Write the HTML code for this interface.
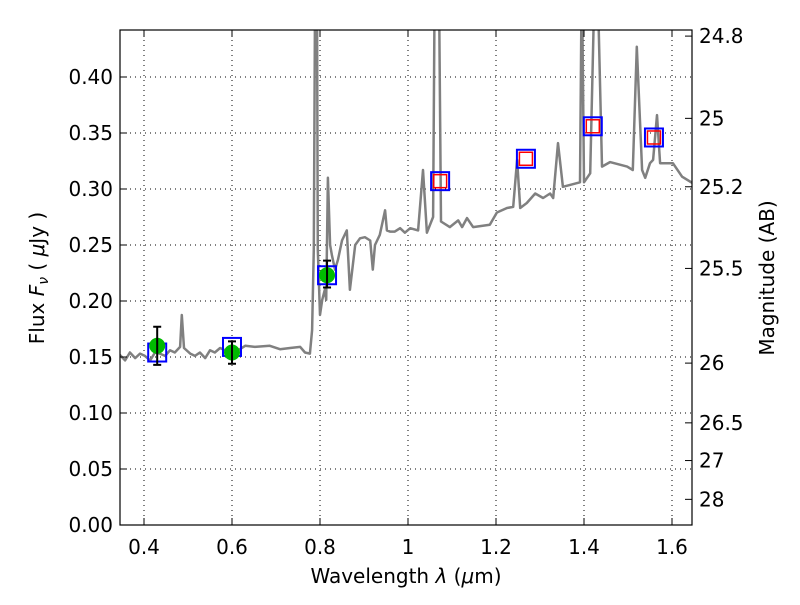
<!DOCTYPE html>
<html><head><meta charset="utf-8"><style>
body{margin:0;background:#fff;}
svg text{font-family:"DejaVu Sans","Liberation Sans",sans-serif;font-size:20px;fill:#000;}
</style></head><body>
<svg id="chart" width="800" height="600">
<defs><clipPath id="clip"><rect x="120" y="30" width="572" height="495"/></clipPath></defs>
<rect x="0" y="0" width="800" height="600" fill="#fff"/>
<g id="grid"></g>
<g id="spec" clip-path="url(#clip)"></g>
<g id="marks"></g>
<rect x="120" y="30" width="572" height="495" fill="none" stroke="#000" stroke-width="1.2"/>
<g id="ticks"></g>
<text x="406" y="583" text-anchor="middle">Wavelength  <tspan font-style="italic">λ</tspan> (<tspan font-style="italic">μ</tspan>m)</text>
<text transform="translate(44,278) rotate(-90)" text-anchor="middle">Flux  <tspan font-style="italic">F</tspan><tspan font-style="italic" font-size="14" dy="4">ν</tspan><tspan dy="-4">  ( </tspan><tspan font-style="italic">μ</tspan>Jy )</text>
<text transform="translate(774,278) rotate(-90)" text-anchor="middle">Magnitude (AB)</text>
</svg>
<script>
const specLam=[0.345,0.357,0.368,0.380,0.391,0.402,0.414,0.425,0.436,0.448,0.459,0.470,0.482,0.486,0.491,0.505,0.516,0.527,0.539,0.550,0.561,0.573,0.584,0.595,0.618,0.630,0.652,0.686,0.709,0.732,0.755,0.766,0.777,0.782,0.786,0.789,0.793,0.795,0.800,0.805,0.811,0.814,0.818,0.823,0.827,0.834,0.841,0.850,0.861,0.868,0.880,0.891,0.902,0.914,0.920,0.925,0.936,0.948,0.952,0.959,0.970,0.982,0.993,1.005,1.023,1.034,1.043,1.057,1.061,1.066,1.070,1.075,1.095,1.114,1.123,1.134,1.148,1.186,1.202,1.225,1.239,1.248,1.255,1.270,1.289,1.307,1.323,1.330,1.341,1.352,1.391,1.395,1.400,1.414,1.425,1.430,1.441,1.459,1.498,1.511,1.520,1.532,1.539,1.550,1.557,1.566,1.573,1.602,1.623,1.648];
const specFlux=[0.152,0.147,0.154,0.149,0.153,0.151,0.147,0.154,0.153,0.151,0.156,0.154,0.159,0.1875,0.158,0.153,0.151,0.154,0.149,0.156,0.154,0.158,0.156,0.154,0.157,0.160,0.159,0.160,0.157,0.158,0.159,0.154,0.153,0.174,0.246,0.5,0.5,0.246,0.1875,0.201,0.210,0.201,0.31,0.25,0.241,0.228,0.237,0.254,0.263,0.210,0.250,0.256,0.257,0.254,0.228,0.250,0.259,0.281,0.263,0.262,0.262,0.265,0.261,0.265,0.263,0.317,0.261,0.275,0.5,0.5,0.5,0.271,0.266,0.272,0.266,0.274,0.266,0.268,0.279,0.283,0.284,0.326,0.283,0.2875,0.296,0.292,0.296,0.292,0.341,0.302,0.306,0.5,0.306,0.314,0.5,0.5,0.320,0.324,0.320,0.317,0.427,0.317,0.310,0.323,0.326,0.366,0.323,0.323,0.311,0.305];
const greenLam=[0.43,0.60,0.816];
const greenFlux=[0.160,0.154,0.223];
const greenErrHi=[0.177,0.164,0.236];
const greenErrLo=[0.143,0.144,0.212];
const blueLam=[0.43,0.60,0.816,1.073,1.268,1.420,1.559];
const blueFlux=[0.154,0.159,0.223,0.307,0.327,0.356,0.346];
const redLam=[1.073,1.268,1.420,1.559];
const redFlux=[0.307,0.327,0.356,0.346];
const xTicks=[0.4,0.6,0.8,1.0,1.2,1.4,1.6];
const xTickLabels=["0.4","0.6","0.8","1","1.2","1.4","1.6"];
const yTicks=[0,0.05,0.1,0.15,0.2,0.25,0.3,0.35,0.4];
const yTickLabels=["0.00","0.05","0.10","0.15","0.20","0.25","0.30","0.35","0.40"];
const magTicks=[24.8,25,25.2,25.5,26,26.5,27,28];
const magLabels=["24.8","25","25.2","25.5","26","26.5","27","28"];

const X=v=>144+(v-0.4)*440;
const Y=v=>525-v*1120;
const NS="http://www.w3.org/2000/svg";
function mk(parent,tag,attrs){const e=document.createElementNS(NS,tag);for(const k in attrs)e.setAttribute(k,attrs[k]);parent.appendChild(e);return e;}
const grid=document.getElementById('grid'),ticks=document.getElementById('ticks'),spec=document.getElementById('spec'),marks=document.getElementById('marks');

xTicks.forEach((v,i)=>{
  const g=mk(grid,'line',{x1:X(v),x2:X(v),y1:30,y2:525,stroke:'#000','stroke-dasharray':'1,4','stroke-width':1});
  
  
  mk(ticks,'line',{x1:X(v),x2:X(v),y1:525,y2:518,stroke:'#000'});
  mk(ticks,'line',{x1:X(v),x2:X(v),y1:30,y2:37,stroke:'#000'});
  const t=mk(ticks,'text',{x:X(v),y:554,'text-anchor':'middle'});t.textContent=xTickLabels[i];
  
  
});
yTicks.forEach((v,i)=>{
  if(v>0){const g=mk(grid,'line',{x1:120,x2:692,y1:Y(v),y2:Y(v),stroke:'#000','stroke-dasharray':'1,4','stroke-width':1});
  
  }
  mk(ticks,'line',{x1:120,x2:127,y1:Y(v),y2:Y(v),stroke:'#000'});
  const t=mk(ticks,'text',{x:113,y:Y(v)+7,'text-anchor':'end'});t.textContent=yTickLabels[i];
  
  
});
magTicks.forEach((m,i)=>{
  const y=Y(Math.pow(10,(23.9-m)/2.5));
  mk(ticks,'line',{x1:692,x2:685,y1:y,y2:y,stroke:'#000'});
  const t=mk(ticks,'text',{x:699,y:y+7,'text-anchor':'start'});t.textContent=magLabels[i];
  
  
});
const pts=specLam.map((l,i)=>X(l).toFixed(1)+','+Y(specFlux[i]).toFixed(1)).join(' ');
const pl=mk(spec,'polyline',{points:pts,fill:'none',stroke:'#808080','stroke-width':2.5,'stroke-linejoin':'round'});


blueLam.forEach((l,i)=>{
  const r=mk(marks,'rect',{x:X(l)-9,y:Y(blueFlux[i])-9,width:18,height:18,fill:'none',stroke:'#0000ff','stroke-width':2});
  
  
});
redLam.forEach((l,i)=>{
  const r=mk(marks,'rect',{x:X(l)-6.5,y:Y(redFlux[i])-6.5,width:13,height:13,fill:'none',stroke:'#ff0000','stroke-width':1.5});
  
  
});
greenLam.forEach((l,i)=>{
  const c=mk(marks,'circle',{cx:X(l),cy:Y(greenFlux[i]),r:8,fill:'#00bb00'});
  
  
  const x=X(l),hi=Y(greenErrHi[i]),lo=Y(greenErrLo[i]);
  const e=mk(marks,'path',{d:`M${x},${hi}V${lo}M${x-4},${hi}H${x+4}M${x-4},${lo}H${x+4}`,stroke:'#000','stroke-width':2,fill:'none'});
  
  
});
</script>
</body></html>
